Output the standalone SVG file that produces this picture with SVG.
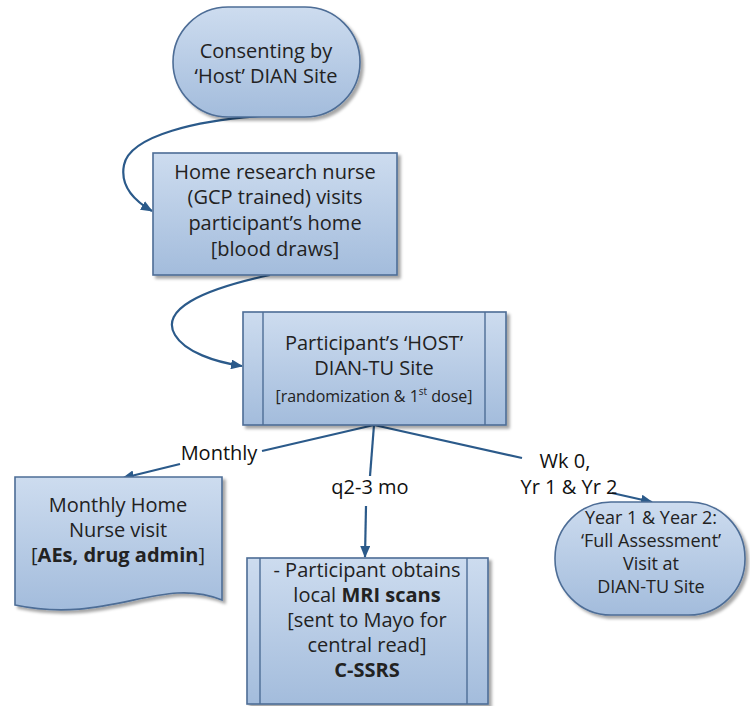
<svg xmlns="http://www.w3.org/2000/svg" width="750" height="706" viewBox="0 0 750 706">
<style>
.node{fill:url(#g);stroke:#4d6d96;stroke-width:1.6;filter:url(#sh)}
.inner{fill:none;stroke:#4d6d96;stroke-width:1.4}
.t{font-family:"Open Sans","Liberation Sans",sans-serif;font-size:20px;fill:#222;text-anchor:middle}
.s{font-size:16px}
.m{font-size:18px}
.lbl{font-family:"Open Sans","Liberation Sans",sans-serif;font-size:20px;fill:#111;text-anchor:middle}
.b{font-weight:bold}
.c{fill:none;stroke:#2b5a8a;stroke-width:2.2}
</style>
<defs>
<linearGradient id="g" x1="0" y1="0" x2="0" y2="1">
<stop offset="0" stop-color="#cddcef"/>
<stop offset="1" stop-color="#a3bcdc"/>
</linearGradient>
<filter id="sh" x="-10%" y="-10%" width="130%" height="130%">
<feDropShadow dx="3" dy="3" stdDeviation="1.5" flood-color="#000" flood-opacity="0.35"/>
</filter>
<marker id="ah" viewBox="0 0 12 10" refX="11" refY="5" markerWidth="12" markerHeight="10" markerUnits="userSpaceOnUse" orient="auto">
<path d="M0,0 L12,5 L0,10 Z" fill="#2b5a8a"/>
</marker>
</defs>

<g id="connectors">
<path class="c" d="M262,116 C200,120 130,135 124,165 C120,185 133,200 152,211" marker-end="url(#ah)"/>
<path class="c" d="M270,275 C200,290 160,310 175,335 C185,352 215,362 242,366" marker-end="url(#ah)"/>
<path class="c" d="M374,425 L262,451"/>
<path class="c" d="M180,464 L123,478" marker-end="url(#ah)"/>
<path class="c" d="M374,425 L370,476"/>
<path class="c" d="M366,506 L365,557" marker-end="url(#ah)"/>
<path class="c" d="M374,425 L522,458"/>
<path class="c" d="M612,493 L652,502" marker-end="url(#ah)"/>
<text class="lbl" x="219" y="460">Monthly</text>
<text class="lbl" x="370" y="494">q2-3 mo</text>
<text class="lbl" x="565" y="468">Wk 0,</text>
<text class="lbl" x="569" y="494">Yr 1 &amp; Yr 2</text>
</g>

<g id="consenting">
<rect class="node" x="173" y="7" width="187" height="110" rx="55" ry="55"/>
<text class="t" x="266" y="58">Consenting by</text>
<text class="t" x="266" y="83">‘Host’ DIAN Site</text>
</g>

<g id="home-nurse">
<rect class="node" x="153" y="153" width="244" height="122"/>
<text class="t" x="275" y="179">Home research nurse</text>
<text class="t" x="275" y="204">(GCP trained) visits</text>
<text class="t" x="275" y="230">participant’s home</text>
<text class="t" x="275" y="256">[blood draws]</text>
</g>

<g id="host-site">
<rect class="node" x="243" y="312" width="263" height="113"/>
<line class="inner" x1="263" y1="312" x2="263" y2="425"/>
<line class="inner" x1="485" y1="312" x2="485" y2="425"/>
<text class="t" x="374" y="350">Participant’s ‘HOST’</text>
<text class="t" x="374" y="375">DIAN-TU Site</text>
<text class="t s" x="374" y="402">[randomization &amp; 1<tspan font-size="10" dy="-7">st</tspan><tspan dy="7"> dose]</tspan></text>
</g>

<g id="monthly-visit">
<path class="node" d="M15,477 H222 V600 C160,575 110,625 15,605 Z"/>
<text class="t" x="118" y="512">Monthly Home</text>
<text class="t" x="118" y="537">Nurse visit</text>
<text class="t" x="118" y="562">[<tspan class="b">AEs, drug admin</tspan>]</text>
</g>

<g id="mri">
<rect class="node" x="247" y="558" width="241" height="146"/>
<line class="inner" x1="260" y1="558" x2="260" y2="704"/>
<line class="inner" x1="467" y1="558" x2="467" y2="704"/>
<text class="t" x="367" y="577">- Participant obtains</text>
<text class="t" x="367" y="602">local <tspan class="b">MRI scans</tspan></text>
<text class="t" x="367" y="627">[sent to Mayo for</text>
<text class="t" x="367" y="652">central read]</text>
<text class="t b" x="367" y="677">C-SSRS</text>
</g>

<g id="full-assessment">
<rect class="node" x="555" y="502" width="190" height="113" rx="56" ry="56"/>
<text class="t m" x="651" y="524">Year 1 &amp; Year 2:</text>
<text class="t m" x="651" y="547">‘Full Assessment’</text>
<text class="t m" x="651" y="570">Visit at</text>
<text class="t m" x="651" y="593">DIAN-TU Site</text>
</g>
</svg>
